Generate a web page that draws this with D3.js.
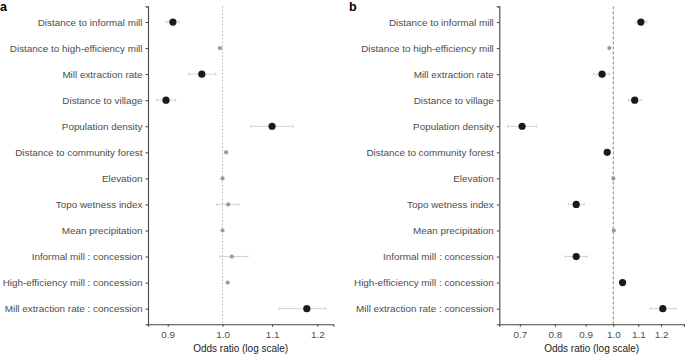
<!DOCTYPE html>
<html>
<head>
<meta charset="UTF-8">
<style>
  body { margin: 0; background: #fff; font-family: "Liberation Sans", Arial, sans-serif; }
  svg { display: block; }
  .tick text { fill: #4d4d4d; }
</style>
</head>
<body>
<svg id="chart" width="685" height="356"></svg>
<script src="https://d3js.org/d3.v7.min.js"></script>
<script>
// variables, top to bottom
const labels = [
  "Distance to informal mill", "Distance to high-efficiency mill", "Mill extraction rate",
  "Distance to village", "Population density", "Distance to community forest",
  "Elevation", "Topo wetness index", "Mean precipitation",
  "Informal mill : concession", "High-efficiency mill : concession", "Mill extraction rate : concession"
];

// panel a
const aOR  = [0.909, 0.995, 0.961, 0.897, 1.100, 1.007, 1.000, 1.011, 1.000, 1.018, 1.010, 1.176];
const aLo  = [0.898, 0.993, 0.937, 0.881, 1.056, 1.005, 0.999, 0.989, 0.999, 0.995, 1.008, 1.115];
const aHi  = [0.920, 0.997, 0.987, 0.914, 1.145, 1.009, 1.001, 1.032, 1.001, 1.050, 1.012, 1.219];
const aSig = [1, 0, 1, 1, 1, 0, 0, 0, 0, 0, 0, 1];
const aTicks = [0.9, 1.0, 1.1, 1.2];

// panel b
const bOR  = [1.111, 0.985, 0.958, 1.085, 0.706, 0.977, 1.000, 0.868, 1.002, 0.868, 1.036, 1.208];
const bLo  = [1.090, 0.982, 0.927, 1.060, 0.668, 0.970, 0.999, 0.842, 1.000, 0.833, 1.030, 1.153];
const bHi  = [1.136, 0.988, 0.985, 1.113, 0.747, 0.984, 1.001, 0.895, 1.004, 0.905, 1.042, 1.270];
const bSig = [1, 0, 1, 1, 1, 1, 0, 1, 0, 1, 1, 1];
const bTicks = [0.7, 0.8, 0.9, 1.0, 1.1, 1.2];

const svg = d3.select("#chart");

const y = d3.scalePoint().domain(labels).range([6.4, 324.3]).padding(0.6);

function drawPanel(opt) {
  const g = svg.append("g");
  const x = d3.scaleLog().domain(opt.domain).range(opt.range);
  const rows = labels.map((l, i) => ({ label: l, or: opt.or[i], lo: opt.lo[i], hi: opt.hi[i], sig: opt.sig[i] }));

  // reference line at 1
  g.append("line")
    .attr("x1", x(1)).attr("x2", x(1))
    .attr("y1", y.range()[0]).attr("y2", y.range()[1])
    .attr("stroke", opt.refColor).attr("stroke-width", opt.refWidth)
    .attr("stroke-dasharray", opt.refDash);

  // confidence intervals
  const ci = g.selectAll(".ci").data(rows).join("g").attr("class", "ci")
    .attr("stroke", "#c8c8c8").attr("stroke-width", 0.8);
  ci.append("line")
    .attr("x1", d => x(d.lo)).attr("x2", d => x(d.hi))
    .attr("y1", d => y(d.label)).attr("y2", d => y(d.label));
  ci.append("line")
    .attr("x1", d => x(d.lo)).attr("x2", d => x(d.lo))
    .attr("y1", d => y(d.label) - 1.5).attr("y2", d => y(d.label) + 1.5);
  ci.append("line")
    .attr("x1", d => x(d.hi)).attr("x2", d => x(d.hi))
    .attr("y1", d => y(d.label) - 1.5).attr("y2", d => y(d.label) + 1.5);

  // estimates
  g.selectAll(".pt").data(rows).join("circle").attr("class", "pt")
    .attr("cx", d => x(d.or)).attr("cy", d => y(d.label))
    .attr("r", d => d.sig ? 3.6 : 2.1)
    .attr("fill", d => d.sig ? "#1a1a1a" : "#9a9a9a");

  // axes
  const yAxis = g.append("g")
    .attr("transform", `translate(${opt.range[0]},0)`)
    .call(d3.axisLeft(y).tickSize(2.5).tickPadding(3));
  yAxis.select(".domain").attr("stroke", "#444").attr("stroke-width", 1.1);
  yAxis.selectAll(".tick line").attr("stroke", "#444");
  yAxis.selectAll(".tick text").attr("font-size", 9.9).attr("font-family", "Liberation Sans, Arial, sans-serif");

  const xAxis = g.append("g")
    .attr("transform", `translate(0,${y.range()[1]})`)
    .call(d3.axisBottom(x).tickValues(opt.ticks).tickFormat(d3.format(".1f")).tickSize(2.5).tickPadding(4));
  xAxis.select(".domain").attr("stroke", "#444").attr("stroke-width", 1.1);
  xAxis.selectAll(".tick line").attr("stroke", "#444");
  xAxis.selectAll(".tick text").attr("font-size", 9.9).attr("font-family", "Liberation Sans, Arial, sans-serif");

  g.append("text")
    .attr("x", (opt.range[0] + opt.range[1]) / 2).attr("y", 352)
    .attr("text-anchor", "middle").attr("font-size", 10).attr("fill", "#1a1a1a")
    .text("Odds ratio (log scale)");

  svg.append("text")
    .attr("x", opt.tagX).attr("y", 11)
    .attr("font-size", 12.5).attr("font-weight", "bold").attr("fill", "#000")
    .text(opt.tag);
}

drawPanel({ tag: "a", tagX: 0, domain: [0.8665, 1.2375], range: [148, 333.3],
  or: aOR, lo: aLo, hi: aHi, sig: aSig, ticks: aTicks, refColor: "#b5b5b5", refWidth: 1, refDash: "1.5,2" });
drawPanel({ tag: "b", tagX: 349, domain: [0.6472, 1.3097], range: [499.3, 684],
  or: bOR, lo: bLo, hi: bHi, sig: bSig, ticks: bTicks, refColor: "#7a7a7a", refWidth: 0.9, refDash: "3,2" });
</script>
</body>
</html>
